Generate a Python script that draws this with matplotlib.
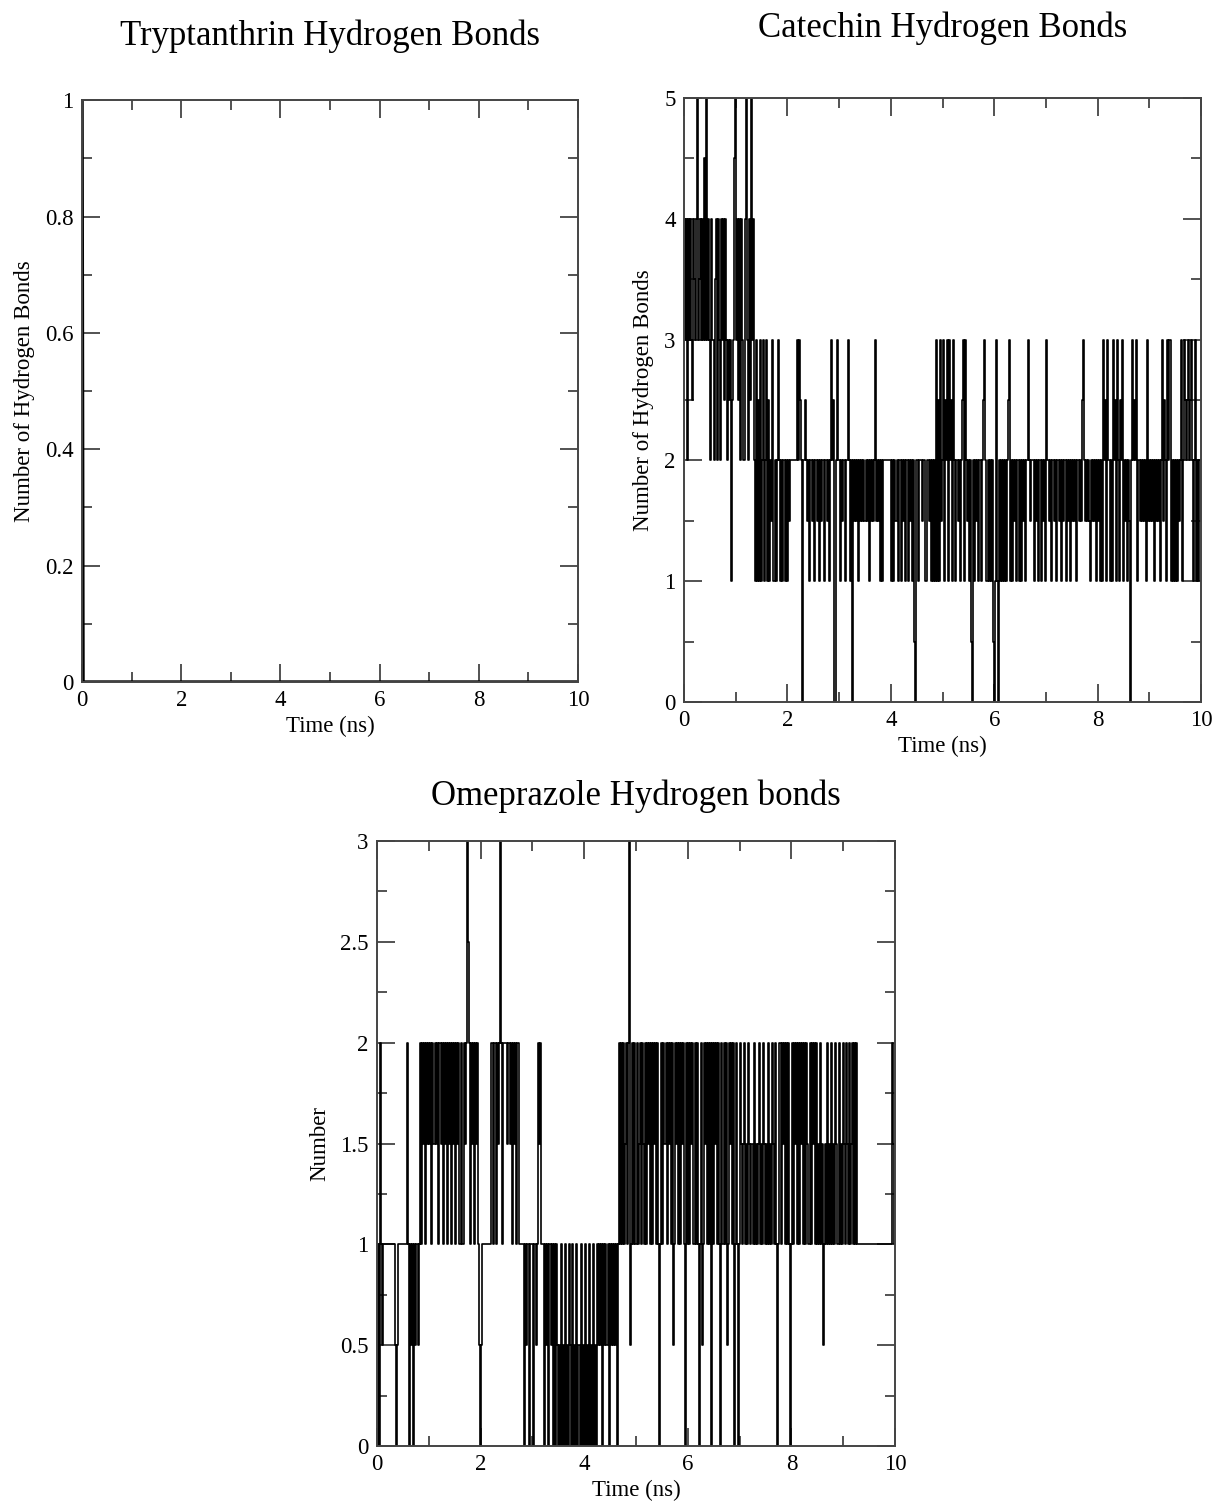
import numpy as np
import matplotlib
matplotlib.use("Agg")
import matplotlib.pyplot as plt
from matplotlib.ticker import MultipleLocator, FormatStrFormatter

plt.rcParams['font.family'] = ['Liberation Serif', 'DejaVu Serif']

# frames every 0.02 ns, each character is (number of H-bonds * 2) in hex
dt = 0.02

tryp_time = [0.0, 0.02, 10.0]
tryp_hbonds = [1.0, 0.0, 0.0]

catechin_frames = [
    "8684868658768a67868696a68",
    "6486478486486858646562569",
    "a685848648a6485a684262526",
    "2462462524362424642424424",
    "2434444444646540454342443",
    "4244342434424434246450464",
    "4243442446424043434243434",
    "3434243434634342424444444",
    "4242434244243424424342410",
    "4424443442443424242625263",
    "4625462645264243424562643",
    "4241042434244245642424241",
    "0262042424242456242434242",
    "4243424464344424342442434",
    "2643424434244342434424342",
    "4343424343564343432434342",
    "4342426452642426452642546",
    "2434243046454624343434263",
    "4343424343424635426462424",
    "2424346246545645642462424",
    "3",
]

omeprazole_frames = [
    "0204212222222222221012222",
    "2222420212021221242434243",
    "4342434342443424342434243",
    "4243422424346542434243421",
    "0122222222242442434642444",
    "4344342434244222202122022",
    "2022124342220212021202021",
    "0102010201021020102010201",
    "0201020102010212120212120",
    "2121212024242423424612424",
    "2423424324243424243424202",
    "4243424342412434242434204",
    "2424342424202412434242404",
    "2434242042424124342402420",
    "2432342324323242323423243",
    "2324232432420242434242420",
    "2424342424342424324243424",
    "2324231232423242324324232",
    "4324324234242422222222222",
    "2222222222222222222222243",
    "2",
]


def decode(frames):
    text = "".join(frames)
    values = np.array([int(c, 16) / 2 for c in text])
    times = np.arange(len(values)) * dt
    return times, values


def style_axes(ax, ymax, ymajor, yminor, ylabel):
    ax.set_xlim(0, 10)
    ax.set_ylim(0, ymax)
    ax.xaxis.set_major_locator(MultipleLocator(2))
    ax.xaxis.set_minor_locator(MultipleLocator(1))
    ax.yaxis.set_major_locator(MultipleLocator(ymajor))
    ax.yaxis.set_minor_locator(MultipleLocator(yminor))
    ax.yaxis.set_major_formatter(FormatStrFormatter('%g'))
    ax.tick_params(which='both', direction='in', top=True, right=True,
                   labelsize=16.5, width=1.3, color='#444444')
    ax.tick_params(which='major', length=13, pad=6)
    ax.tick_params(which='minor', length=7)
    for s in ax.spines.values():
        s.set_linewidth(1.4)
        s.set_color('#444444')
    ax.set_xlabel("Time (ns)", fontsize=16.5, labelpad=3)
    ax.set_ylabel(ylabel, fontsize=16.5, labelpad=7)


fig = plt.figure(figsize=(12.15, 15.01), dpi=100)

ax1 = fig.add_axes([0.0675, 0.5456, 0.4082, 0.3877])
ax1.plot(tryp_time, tryp_hbonds, color='k', lw=2.5)
style_axes(ax1, 1, 0.2, 0.1, "Number of Hydrogen Bonds")
ax1.set_title("Tryptanthrin Hydrogen Bonds", fontsize=25, pad=40)

t2, v2 = decode(catechin_frames)
ax2 = fig.add_axes([0.563, 0.5323, 0.4255, 0.4024])
ax2.plot(t2, v2, color='k', lw=1.2, drawstyle='steps-mid')
style_axes(ax2, 5, 1, 0.5, "Number of Hydrogen Bonds")
ax2.set_title("Catechin Hydrogen Bonds", fontsize=25, pad=44)

t3, v3 = decode(omeprazole_frames)
ax3 = fig.add_axes([0.3103, 0.0366, 0.4263, 0.4031])
ax3.plot(t3, v3, color='k', lw=1.2, drawstyle='steps-mid')
style_axes(ax3, 3, 0.5, 0.25, "Number")
ax3.set_title("Omeprazole Hydrogen bonds", fontsize=25, pad=26)

fig.savefig("out.png", dpi=100)
